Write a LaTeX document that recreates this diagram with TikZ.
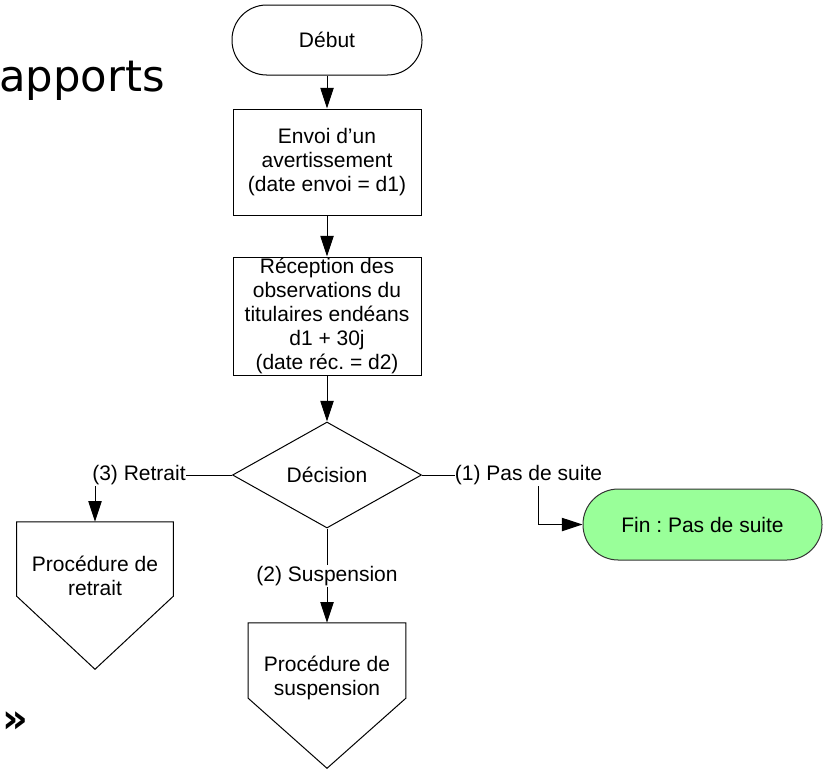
\documentclass[tikz,border=0pt]{standalone}
\usepackage{fontspec}
\setmainfont{Liberation Sans}
\newfontfamily\dejavu{DejaVu Sans}
\usetikzlibrary{arrows.meta,shapes.geometric,calc}
\definecolor{fingreen}{RGB}{153,255,153}
\begin{document}
\frenchspacing
\begin{tikzpicture}[x=0.75pt,y=-0.75pt,
  every node/.style={font=\fontsize{15.75}{18}\selectfont, inner sep=0pt, align=center},
  line/.style={line width=0.75pt, draw=black},
  arr/.style={line, -{Triangle[length=15.5pt,width=10pt]}},
  procbox/.style={draw, line width=0.75pt, rectangle, minimum width=141pt, minimum height=79.5pt},
  term/.style={draw, line width=0.75pt, rectangle, rounded corners=26pt, minimum width=142.5pt, minimum height=52.5pt},
  decision/.style={draw, line width=0.75pt, diamond, minimum width=141.75pt, minimum height=79.5pt},
  lbl/.style={inner xsep=0pt, inner ysep=1pt},
  ghost/.style={draw=none}
]
\useasboundingbox (0,0) rectangle (823,769);

% title fragment and marker
\node[font=\dejavu\fontsize{32.5}{38}\selectfont, anchor=base west] (title) at (-1,91) {apports};
\node[font=\dejavu\bfseries\fontsize{30}{34}\selectfont] (quote) at (15,722) {»};

% main flow
\node[term] (debut) at (327,40) {Début};
\node[procbox] (envoi) at (327,162) {Envoi d’un\\avertissement\\(date envoi = d1)};
\node[procbox, minimum height=88.5pt] (recep) at (327,316) {};
\node (recept) at (recep.center) {Réception des\\observations du\\titulaires endéans\\d1 + 30j\\(date réc. = d2)};
\node[decision] (dec) at (327,475) {Décision};

% branch labels
\node[lbl] (l3) at (139,475) {(3) Retrait};
\node[lbl] (l2) at (327,576) {(2) Suspension};
\node[lbl] (l1) at (528.5,475) {(1) Pas de suite};

% off-page connectors
\node[ghost, minimum width=117pt, minimum height=55.5pt] (ret) at (95,559) {};
\draw[line] (ret.north west) -- (ret.north east) -- (ret.south east) -- ($(ret.south)+(0,73)$) -- (ret.south west) -- cycle;
\node (rett) at (95,576) {Procédure de\\retrait};

\node[ghost, minimum width=117.75pt, minimum height=56.25pt] (sus) at (327,660.5) {};
\draw[line] (sus.north west) -- (sus.north east) -- (sus.south east) -- ($(sus.south)+(0,70)$) -- (sus.south west) -- cycle;
\node (sust) at (327,678) {Procédure de\\suspension};

% end terminal
\node[term, fill=fingreen, draw=black!80, minimum width=179.25pt, minimum height=53.25pt, rounded corners=26.5pt] (fin) at (702.5,524.5) {Fin : Pas de suite};

% connectors
\draw[arr] (debut) -- (envoi);
\draw[arr] (envoi) -- (recep);
\draw[arr] (recep) -- (dec);
\draw[line] (dec.west) -- (l3.east);
\draw[arr] (l3.south west -| ret.north) -- (ret.north);
\draw[line] (dec.south) -- (l2.north);
\draw[arr] (l2.south) -- (sus.north);
\draw[line] (dec.east) -- (l1.west);
\coordinate (kink) at (538,524.5);
\draw[arr] (l1.south -| kink) |- (fin.west);
\end{tikzpicture}
\end{document}
